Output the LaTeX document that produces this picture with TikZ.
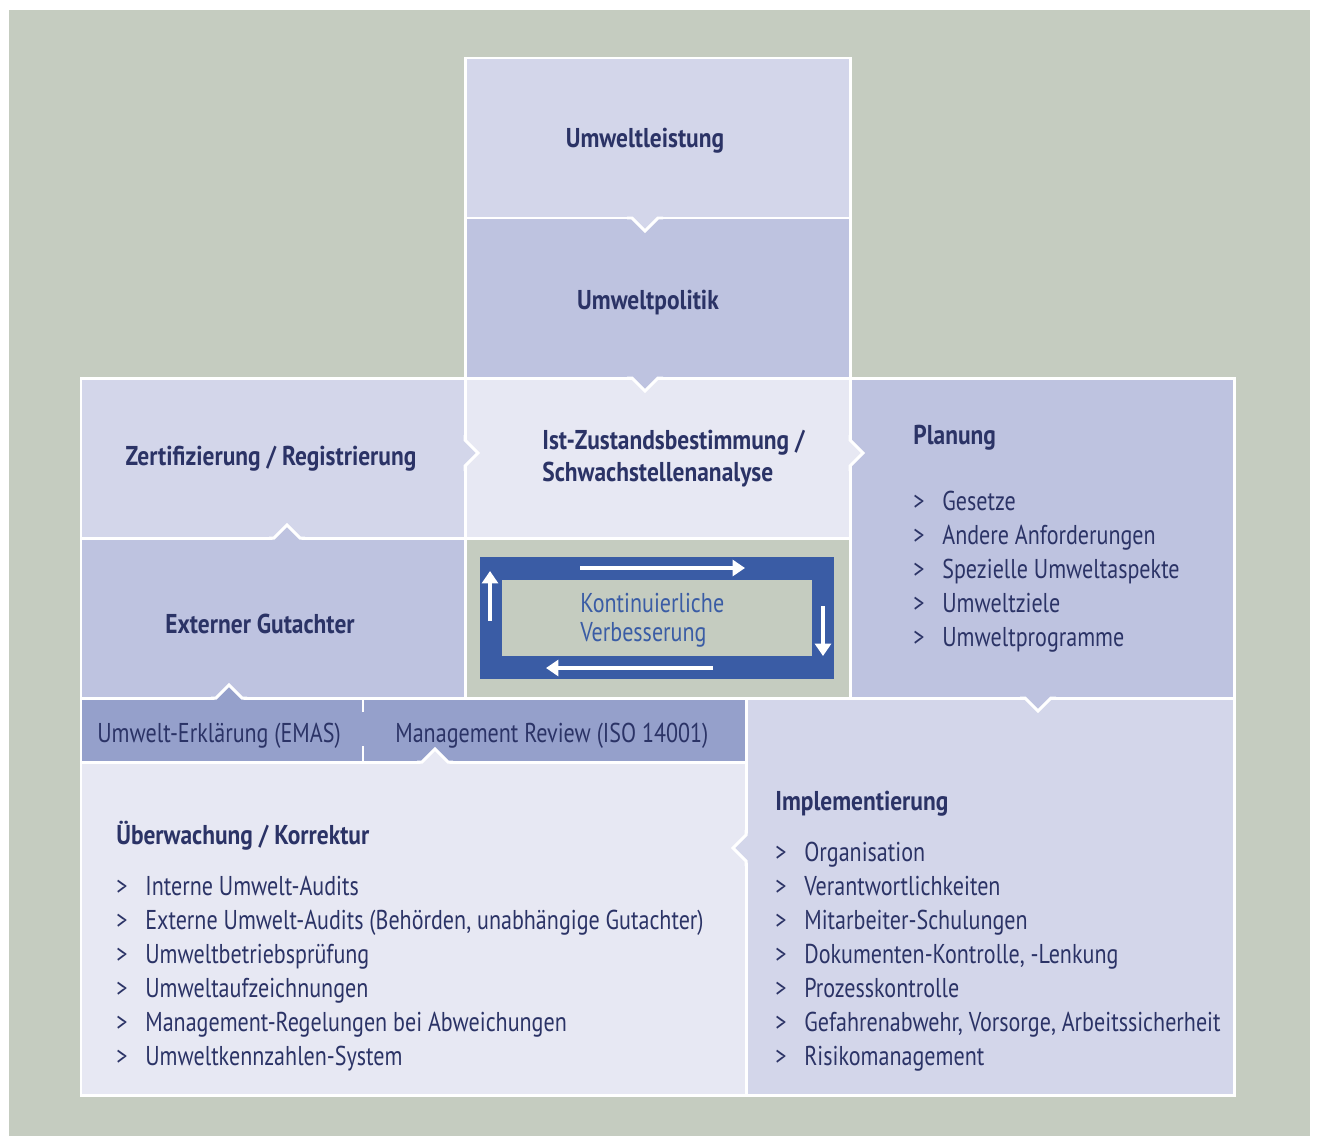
\documentclass[tikz,border=0pt]{standalone}
\usepackage{fontspec}
\setmainfont{PT Sans}[FakeStretch=0.81]
\newfontfamily\headfont{PT Sans}[FakeStretch=0.86]
\usetikzlibrary{arrows.meta}
\definecolor{bgGrey}{RGB}{197,204,192}
\definecolor{boxLight}{RGB}{211,214,234}
\definecolor{boxMid}{RGB}{190,195,224}
\definecolor{boxPale}{RGB}{231,232,243}
\definecolor{boxDark}{RGB}{149,160,203}
\definecolor{ringBlue}{RGB}{58,92,165}
\definecolor{textNavy}{RGB}{43,51,102}
\newcommand{\diagfont}{\fontsize{15.5}{18}\selectfont}
\def\notch[#1](#2)(#3){\begin{scope}[shift={(#2)}, rotate=#3]
	\fill[#1] (-15,-2) -- (15,-2) -- (0,13) -- cycle;
	\draw[sep] (-18,0) -- (-13,0) -- (0,13) -- (13,0) -- (18,0);
	\end{scope}}
\tikzset{
	sep/.style={draw=white, line width=1.7pt, line join=miter},
	heading/.style={font=\diagfont\headfont\bfseries, text=textNavy, inner sep=0pt},
	item/.style={font=\diagfont, text=textNavy, inner sep=0pt, anchor=base west},
	loop/.style={white, line width=2.8pt, -{Triangle[length=7pt,width=9pt]}},
}

\begin{document}
\begin{tikzpicture}[x=0.02cm, y=-0.02cm]
			%%%%% START %%%%%
			\useasboundingbox (0,0) rectangle (1317,1136);
			\fill[bgGrey] (9,10) rectangle (1310,1136);
			
			% column on top
			\draw[sep, fill=boxLight] (465,58) rectangle (850,218);
			\draw[sep, fill=boxMid] (465,218) rectangle (850,378);
			
			% middle rows
			\draw[sep, fill=boxLight] (81,378) rectangle (465,538);
			\draw[sep, fill=boxPale] (465,378) rectangle (850,538);
			\draw[sep, fill=boxMid] (850,378) rectangle (1234,698);
			\draw[sep, fill=boxMid] (81,538) rectangle (465,698);
			\draw[sep, fill=bgGrey] (465,538) rectangle (850,698);
			
			% lower part
			\draw[sep, fill=boxDark] (81,698) rectangle (746,762);
			\draw[sep, fill=boxPale] (81,762) rectangle (746,1095);
			\draw[sep, fill=boxLight] (746,698) rectangle (1234,1095);
			\draw[sep] (363,698) -- (363,712);
			\draw[sep] (363,746) -- (363,762);
			
			% improvement loop
			\fill[ringBlue] (480,557) rectangle (834,679);
			\fill[bgGrey] (502,580) rectangle (812,656);
			\draw[loop] (580,568) -- (745,568);
			\draw[loop] (823,606) -- (823,656);
			\draw[loop] (713,668) -- (546,668);
			\draw[loop] (490,621) -- (490,571);
			
			% pointers between the boxes
			\notch[boxLight](645,218)(0)
			\notch[boxMid](645,378)(0)
			\notch[boxLight](465,453)(90)
			\notch[boxPale](850,453)(90)
			\notch[boxMid](1038,698)(0)
			\notch[boxLight](746,848)(-90)
			\notch[boxPale](435,762)(180)
			\notch[boxDark](229,698)(180)
			\notch[boxMid](287,538)(180)
			
			% texts
			\node[heading, anchor=base] (leistung) at (645,147) {Umweltleistung};
			\node[heading, anchor=base] (politik) at (648,309) {Umweltpolitik};
			\node[heading, anchor=base] (zert) at (271,465) {Zertifizierung / Registrierung};
			\node[heading, anchor=base west] (ist) at (542,449) {Ist-Zustandsbestimmung /};
			\node[heading, anchor=base west] (schwach) at (542,481) {Schwachstellenanalyse};
			\node[heading, anchor=base] (gutachter) at (260,633) {Externer Gutachter};
			\node[item, text=ringBlue] (kont) at (580,612) {Kontinuierliche};
			\node[item, text=ringBlue] (verb) at (580,641) {Verbesserung};
			\node[item] (emas) at (97,742) {Umwelt-Erklärung (EMAS)};
			\node[item] (review) at (395,742) {Management Review (ISO 14001)};
			
			\node[heading, anchor=base west] (planung) at (913,444) {Planung};
			\node[item] (plan1) at (913,510) {\makebox[0.58cm][l]{>}Gesetze};
			\node[item] (plan2) at (913,544) {\makebox[0.58cm][l]{>}Andere Anforderungen};
			\node[item] (plan3) at (913,578) {\makebox[0.58cm][l]{>}Spezielle Umweltaspekte};
			\node[item] (plan4) at (913,612) {\makebox[0.58cm][l]{>}Umweltziele};
			\node[item] (plan5) at (913,646) {\makebox[0.58cm][l]{>}Umweltprogramme};
			
			\node[heading, anchor=base west] (impl) at (775,810) {Implementierung};
			\node[item] (impl1) at (775,861) {\makebox[0.58cm][l]{>}Organisation};
			\node[item] (impl2) at (775,895) {\makebox[0.58cm][l]{>}Verantwortlichkeiten};
			\node[item] (impl3) at (775,929) {\makebox[0.58cm][l]{>}Mitarbeiter-Schulungen};
			\node[item] (impl4) at (775,963) {\makebox[0.58cm][l]{>}Dokumenten-Kontrolle, -Lenkung};
			\node[item] (impl5) at (775,997) {\makebox[0.58cm][l]{>}Prozesskontrolle};
			\node[item] (impl6) at (775,1031) {\makebox[0.58cm][l]{>}Gefahrenabwehr, Vorsorge, Arbeitssicherheit};
			\node[item] (impl7) at (775,1065) {\makebox[0.58cm][l]{>}Risikomanagement};
			
			\node[heading, anchor=base west] (ueber) at (116,844) {Überwachung / Korrektur};
			\node[item] (ueber1) at (116,895) {\makebox[0.58cm][l]{>}Interne Umwelt-Audits};
			\node[item] (ueber2) at (116,929) {\makebox[0.58cm][l]{>}Externe Umwelt-Audits (Behörden, unabhängige Gutachter)};
			\node[item] (ueber3) at (116,963) {\makebox[0.58cm][l]{>}Umweltbetriebsprüfung};
			\node[item] (ueber4) at (116,997) {\makebox[0.58cm][l]{>}Umweltaufzeichnungen};
			\node[item] (ueber5) at (116,1031) {\makebox[0.58cm][l]{>}Management-Regelungen bei Abweichungen};
			\node[item] (ueber6) at (116,1065) {\makebox[0.58cm][l]{>}Umweltkennzahlen-System};
			%%%%% END %%%%%
\end{tikzpicture}
\end{document}
